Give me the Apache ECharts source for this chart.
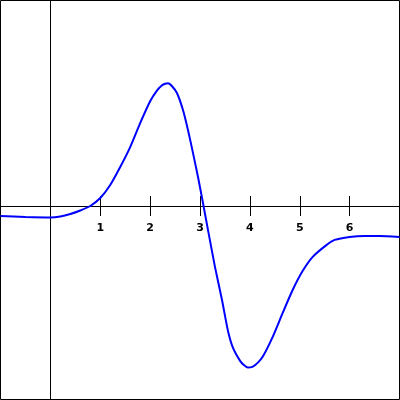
<!DOCTYPE html>
<html>
<head>
<meta charset="utf-8">
<script src="https://cdn.jsdelivr.net/npm/echarts@6/dist/echarts.min.js"></script>
<style>html,body{margin:0;padding:0;background:#fff}#c{width:400px;height:400px}</style>
</head>
<body>
<div id="c"></div>
<script>
const xValues = [-1, -0.5, 0, 0.2, 0.4, 0.6, 0.8, 1.0, 1.2, 1.4, 1.6, 1.8, 2.0, 2.14, 2.24, 2.30, 2.36, 2.44, 2.54, 2.66, 2.76, 2.86, 2.96, 3.06, 3.16, 3.30, 3.44, 3.56, 3.66, 3.80, 3.88, 3.96, 4.06, 4.16, 4.26, 4.46, 4.66, 4.86, 5.06, 5.26, 5.54, 5.70, 6.0, 6.3, 6.6, 7.0];
const yValues = [-0.20, -0.22, -0.23, -0.21, -0.16, -0.09, 0.00, 0.16, 0.42, 0.78, 1.18, 1.66, 2.10, 2.32, 2.42, 2.45, 2.46, 2.40, 2.26, 1.92, 1.52, 1.06, 0.58, 0.06, -0.48, -1.22, -1.88, -2.50, -2.84, -3.10, -3.19, -3.24, -3.22, -3.14, -3.02, -2.62, -2.14, -1.68, -1.30, -1.02, -0.78, -0.68, -0.62, -0.60, -0.60, -0.62];
const tickLabels = ['1', '2', '3', '4', '5', '6'];

const chart = echarts.init(document.getElementById('c'), null, {renderer: 'canvas'});
const xCommon = {
  type: 'value', min: -1, max: 7, interval: 1,
  axisLine: {show: true, onZero: false, lineStyle: {color: '#000', width: 1}},
  splitLine: {show: false}
};
const option = {
  animation: false,
  backgroundColor: '#fff',
  grid: {left: 0.5, right: 0.5, top: 0.5, bottom: 0.5, show: true, borderColor: '#000', borderWidth: 1,
         backgroundColor: 'transparent', containLabel: false, outerBoundsMode: 'none'},
  xAxis: [
    Object.assign({}, xCommon, {
      position: 'bottom', offset: 0,
      axisTick: {show: true, length: 10, inside: false, lineStyle: {color: '#000'}},
      axisLabel: {
        show: true, margin: 17, color: '#000', fontSize: 11, fontWeight: 'bold', fontFamily: 'DejaVu Sans',
        formatter: function (v) { return tickLabels.indexOf(String(v)) >= 0 ? String(v) : ''; }
      }
    }),
    Object.assign({}, xCommon, {
      position: 'top', offset: 0,
      axisLine: {show: false},
      axisTick: {show: true, length: 10, inside: false, lineStyle: {color: '#000'}},
      axisLabel: {show: false}
    })
  ],
  yAxis: {
    type: 'value', min: -3.88, max: 4.12,
    axisLine: {show: true, onZero: true, lineStyle: {color: '#000', width: 1}},
    axisTick: {show: false}, axisLabel: {show: false}, splitLine: {show: false}
  },
  series: [{
    type: 'line',
    xAxisIndex: 0,
    data: xValues.map((x, i) => [x, yValues[i]]),
    smooth: 0.2,
    showSymbol: false,
    lineStyle: {color: '#0000ff', width: 2}
  }]
};
chart.setOption(option);
// place the x axes on y = 0 using the library's own y scale
const rect = chart.getModel().getComponent('grid', 0).coordinateSystem.getRect();
const y0 = chart.convertToPixel({yAxisIndex: 0}, 0);
chart.setOption({
  xAxis: [
    {offset: -(rect.y + rect.height - y0)},
    {offset: -(y0 - rect.y)}
  ]
});
</script>
</body>
</html>
